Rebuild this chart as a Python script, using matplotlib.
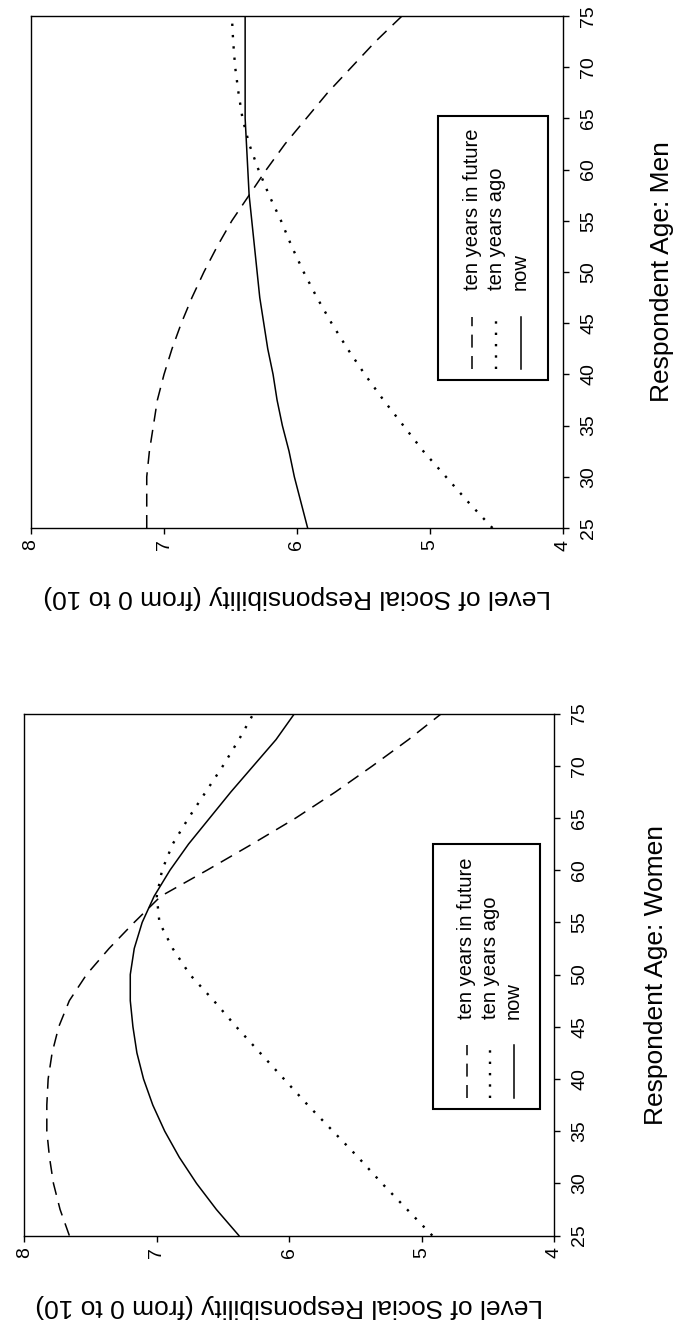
import matplotlib
matplotlib.use('Agg')
import matplotlib.pyplot as plt
from matplotlib.patches import Rectangle

plt.rcParams['font.family'] = ['Liberation Sans', 'DejaVu Sans']

# respondent age (read every 2.5 years)
ages = [25, 27.5, 30, 32.5, 35, 37.5, 40, 42.5, 45, 47.5, 50,
        52.5, 55, 57.5, 60, 62.5, 65, 67.5, 70, 72.5, 75]

# level of social responsibility, men
men_future = [7.13, 7.13, 7.13, 7.11, 7.08, 7.05, 7.00, 6.94, 6.87, 6.79, 6.70,
              6.60, 6.49, 6.36, 6.23, 6.09, 5.93, 5.77, 5.59, 5.41, 5.21]
men_past = [4.53, 4.71, 4.88, 5.05, 5.20, 5.35, 5.49, 5.62, 5.74, 5.85, 5.95,
            6.04, 6.12, 6.21, 6.29, 6.36, 6.41, 6.44, 6.465, 6.48, 6.49]
men_now = [5.92, 5.97, 6.02, 6.06, 6.11, 6.15, 6.18, 6.22, 6.25, 6.28, 6.30,
           6.32, 6.34, 6.36, 6.37, 6.38, 6.39, 6.39, 6.39, 6.39, 6.39]

# level of social responsibility, women
women_future = [7.66, 7.73, 7.78, 7.81, 7.83, 7.83, 7.82, 7.79, 7.74, 7.66, 7.53,
                7.36, 7.17, 6.97, 6.62, 6.28, 5.95, 5.65, 5.37, 5.10, 4.85]
women_past = [4.92, 5.11, 5.30, 5.48, 5.67, 5.86, 6.04, 6.22, 6.40, 6.57, 6.75,
              6.88, 6.98, 7.00, 6.96, 6.88, 6.76, 6.63, 6.50, 6.38, 6.27]
women_now = [6.38, 6.55, 6.70, 6.83, 6.94, 7.03, 7.10, 7.15, 7.18, 7.20, 7.20,
             7.17, 7.11, 7.02, 6.90, 6.76, 6.60, 6.44, 6.27, 6.10, 5.96]

series_names = ['ten years in future', 'ten years ago', 'now']
level_ticks = [4, 5, 6, 7, 8]
age_ticks = [25, 30, 35, 40, 45, 50, 55, 60, 65, 70, 75]

DASHED = dict(linestyle=(0, (8.5, 5.5)), linewidth=1.1)
DOTTED = dict(linestyle=(0, (1, 3.8)), linewidth=1.7)
SOLID = dict(linestyle='-', linewidth=1.1)
STYLES = [DASHED, DOTTED, SOLID]


def draw_panel(ax, future, past, now, age_label, leg_box, xlab_y, ylab_x):
    # the page is turned: age runs up, level runs right-to-left
    for vals, st in zip([future, past, now], STYLES):
        ax.plot(vals, ages, color='black', **st)

    ax.set_xlim(8, 4)
    ax.set_ylim(25, 75)
    ax.set_xticks(level_ticks)
    ax.set_yticks(age_ticks)
    ax.yaxis.tick_right()
    ax.tick_params(axis='both', direction='out', length=4.3, width=1.0,
                   labelsize=14, color='black')
    ax.tick_params(axis='x', labelrotation=90, pad=4)
    ax.tick_params(axis='y', labelrotation=90, pad=8)
    for t in ax.get_yticklabels():
        t.set_va('center')
    for s in ax.spines.values():
        s.set_linewidth(1.0)

    ax.set_xlabel('Level of Social Responsibility (from 0 to 10)',
                  rotation=180, fontsize=19)
    ax.xaxis.set_label_coords(0.5, xlab_y)
    ax.xaxis.label.set_va('center')
    ax.yaxis.set_label_position('right')
    ax.set_ylabel(age_label, rotation=90, fontsize=19)
    ax.yaxis.set_label_coords(ylab_x, 0.5)
    ax.yaxis.label.set_va('center')
    ax.yaxis.label.set_ha('center')

    # turned legend, built by hand
    x0, y0, x1, y1 = leg_box
    w, h = x1 - x0, y1 - y0
    ax.add_patch(Rectangle((x0, y0), w, h, transform=ax.transAxes,
                           facecolor='white', edgecolor='black',
                           linewidth=1.5, zorder=3))
    for i, (name, st) in enumerate(zip(series_names, STYLES)):
        cx = x0 + w * (0.31 + 0.22 * i)
        ax.plot([cx, cx], [y0 + 0.04 * h, y0 + 0.24 * h], color='black',
                transform=ax.transAxes, zorder=4, **st)
        ax.text(cx, y0 + 0.34 * h, name, rotation=90, fontsize=14.5,
                ha='center', va='bottom', transform=ax.transAxes, zorder=4)


fig = plt.figure(figsize=(6.75, 13.3), dpi=100)
ax_men = fig.add_axes([0.046, 0.603, 0.788, 0.385])
ax_women = fig.add_axes([0.036, 0.071, 0.785, 0.3925])

draw_panel(ax_men, men_future, men_past, men_now, 'Respondent Age: Men',
           (0.765, 0.289, 0.972, 0.805), -0.135, 1.186)
draw_panel(ax_women, women_future, women_past, women_now,
           'Respondent Age: Women',
           (0.772, 0.243, 0.974, 0.751), -0.134, 1.192)

fig.savefig('out.png', dpi=100)
